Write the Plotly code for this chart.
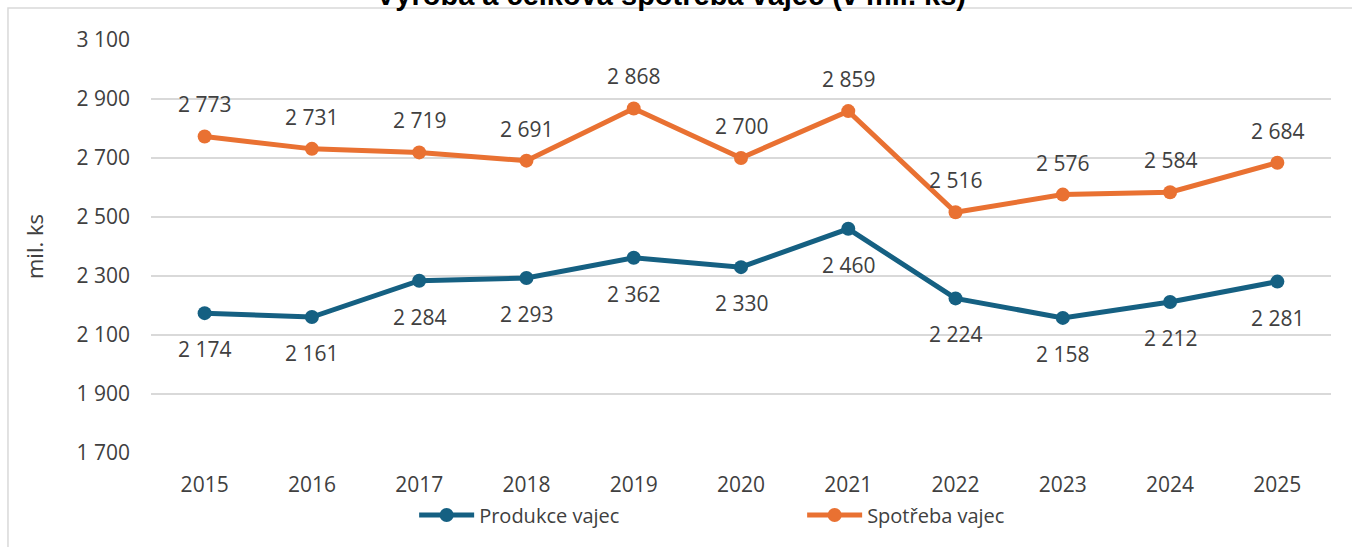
import plotly.graph_objects as go

years = ["2015", "2016", "2017", "2018", "2019", "2020", "2021", "2022", "2023", "2024", "2025"]
produkce = [2174, 2161, 2284, 2293, 2362, 2330, 2460, 2224, 2158, 2212, 2281]
spotreba = [2773, 2731, 2719, 2691, 2868, 2700, 2859, 2516, 2576, 2584, 2684]
y_ticks = [1700, 1900, 2100, 2300, 2500, 2700, 2900, 3100]
title_text = "Výroba a celková spotřeba vajec (v mil. ks)"

BLUE = "#156082"
ORANGE = "#E97132"
TXT = "#404040"
FONT = "Open Sans"
FS = 21


def fmt(v):
    return f"{v:,}".replace(",", " ")


fig = go.Figure()
fig.add_trace(go.Scatter(
    x=years, y=produkce, name="Produkce vajec", mode="lines+markers",
    line=dict(color=BLUE, width=5), marker=dict(color=BLUE, size=14),
))
fig.add_trace(go.Scatter(
    x=years, y=spotreba, name="Spotřeba vajec", mode="lines+markers",
    line=dict(color=ORANGE, width=5), marker=dict(color=ORANGE, size=14),
))

annotations = []
for i, v in enumerate(spotreba):
    annotations.append(dict(x=i, y=v, xref="x", yref="y", text=fmt(v), showarrow=False,
                            yshift=32, font=dict(family=FONT, size=FS, color=TXT)))
for i, v in enumerate(produkce):
    annotations.append(dict(x=i, y=v, xref="x", yref="y", text=fmt(v), showarrow=False,
                            yshift=-36, font=dict(family=FONT, size=FS, color=TXT)))
annotations.append(dict(x=0.441, y=1, xref="paper", yref="paper", yshift=27, yanchor="bottom",
                        text="<b>" + title_text + "</b>", showarrow=False,
                        font=dict(family="Liberation Sans", size=29, color="#000000")))

fig.update_layout(
    width=1352, height=547,
    margin=dict(l=151, r=21, t=40, b=94),
    paper_bgcolor="white", plot_bgcolor="white",
    separators=". ",
    font=dict(family=FONT, size=FS, color=TXT),
    annotations=annotations,
    shapes=[dict(type="rect", xref="paper", yref="paper", x0=-0.1212, x1=1.2, y0=-0.5, y1=1.0775,
                 line=dict(color="#d9d9d9", width=1.5), fillcolor="rgba(0,0,0,0)", layer="below")],
    xaxis=dict(type="category", range=[-0.5, 10.5], showgrid=False, showline=False, ticks="",
               tickfont=dict(family=FONT, size=FS, color=TXT), ticklabelstandoff=17),
    yaxis=dict(range=[1700, 3100], tickvals=y_ticks, tickformat=",d", showgrid=True,
               gridcolor="#d9d9d9", gridwidth=1.5, zeroline=False, showline=False, ticks="",
               tickfont=dict(family=FONT, size=FS, color=TXT), ticklabelstandoff=20,
               title=dict(text="mil. ks", font=dict(family=FONT, size=22, color=TXT), standoff=26)),
    legend=dict(orientation="h", x=0.223, xanchor="left", y=-0.15, yanchor="middle",
                entrywidth=318, font=dict(family=FONT, size=20, color=TXT), itemwidth=55),
    showlegend=True,
)

fig.write_html("out.html")
